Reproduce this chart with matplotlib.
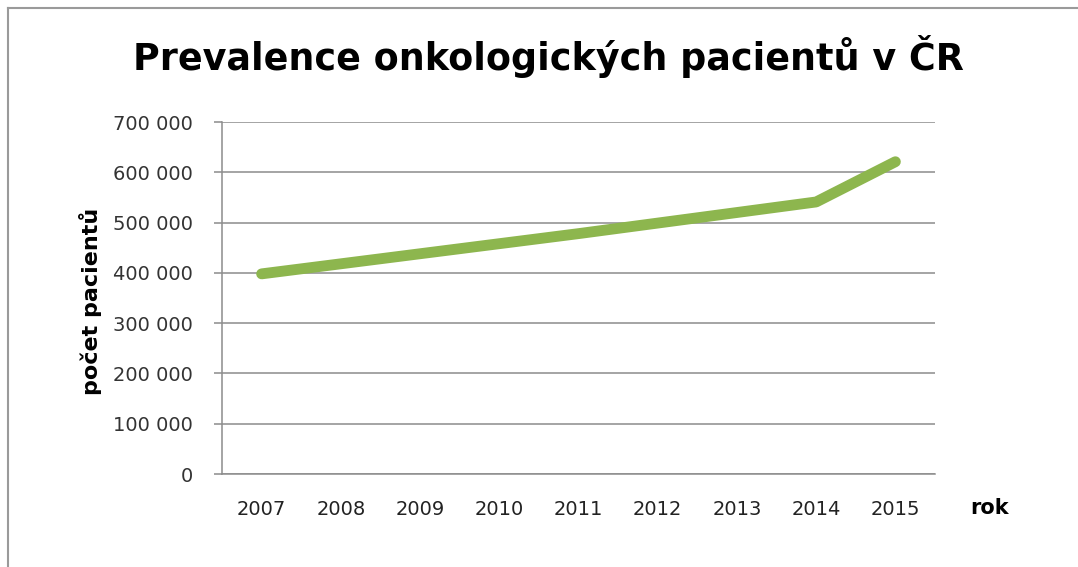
import matplotlib
matplotlib.use("Agg")
import matplotlib.pyplot as plt
from matplotlib.lines import Line2D
from matplotlib.ticker import FuncFormatter

years = ["2007", "2008", "2009", "2010", "2011", "2012", "2013", "2014", "2015"]
patients = [398000, 418000, 438000, 458000, 478000, 499000, 520000, 541000, 621000]
y_ticks = [0, 100000, 200000, 300000, 400000, 500000, 600000, 700000]

title = "Prevalence onkologických pacientů v ČR"
ylabel = "počet pacientů"
xlabel = "rok"

plt.rcParams['font.family'] = ['DejaVu Sans']

fig = plt.figure(figsize=(10.78, 5.67), dpi=100)
W, H = 1078, 567
ax = fig.add_axes([222 / W, 1 - 474 / H, (935 - 222) / W, (474 - 122) / H])

x = list(range(len(years)))
ax.plot(x, patients, color="#8db64e", linewidth=7.8, solid_capstyle="round",
        solid_joinstyle="round", zorder=3)

ax.set_xlim(-0.5, len(years) - 0.5)
ax.set_ylim(0, 700000)
ax.set_yticks(y_ticks)
ax.yaxis.set_major_formatter(FuncFormatter(lambda v, p: f"{int(v):,}".replace(",", " ")))
ax.set_xticks(x)
ax.set_xticklabels(years)

ax.grid(axis="y", color="#8c8c8c", linewidth=1.1, zorder=1)
ax.set_axisbelow(True)
for s in ["top", "right"]:
    ax.spines[s].set_visible(False)
for s in ["left", "bottom"]:
    ax.spines[s].set_color("#8c8c8c")
    ax.spines[s].set_linewidth(1.1)

ax.tick_params(axis="y", length=6, color="#8c8c8c", width=1.1, labelsize=14,
               labelcolor="#333333", pad=15)
ax.tick_params(axis="x", length=0, labelsize=14, labelcolor="#222222", pad=19)

fig.text(548 / W, 1 - 70 / H, title, ha="center", va="baseline", fontsize=26.3,
         fontweight="bold", color="#000000")
fig.text(90 / W, 1 - 301 / H, ylabel, ha="center", va="center", rotation=90,
         fontsize=16, fontweight="bold", color="#000000")
fig.text(990 / W, 1 - 514 / H, xlabel, ha="center", va="baseline",
         fontsize=15, fontweight="bold", color="#000000")

# outer frame (left and top edges)
fig.add_artist(Line2D([8 / W, 8 / W], [0, 1 - 8 / H], transform=fig.transFigure,
                      color="#9a9a9a", linewidth=1.5))
fig.add_artist(Line2D([8 / W, 1], [1 - 8 / H, 1 - 8 / H], transform=fig.transFigure,
                      color="#9a9a9a", linewidth=1.5))

fig.savefig("out.png", dpi=100, facecolor="white")
